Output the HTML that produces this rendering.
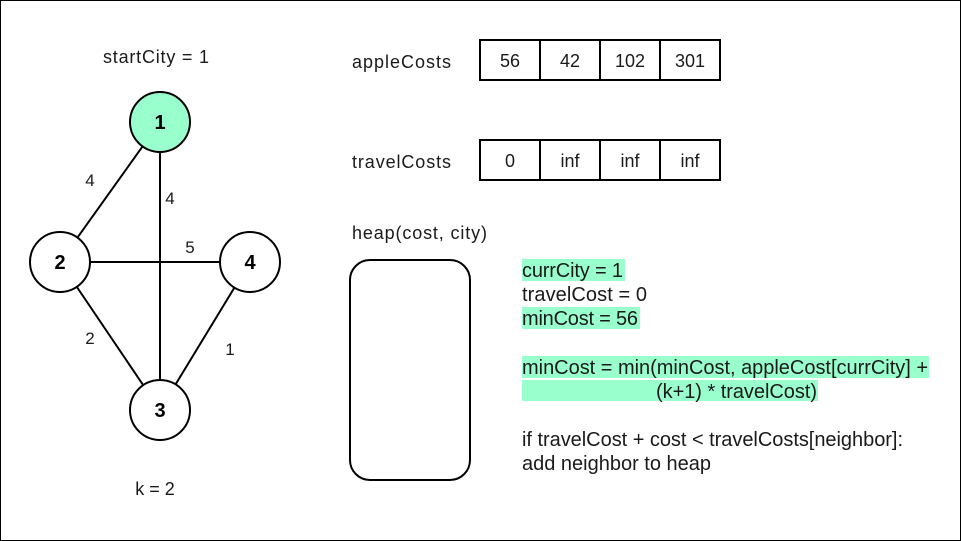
<!DOCTYPE html>
<html><head><style>
html,body{margin:0;padding:0;background:#fff}
svg{display:block}
text{font-family:"Liberation Sans",Arial,sans-serif;font-size:20px;fill:#1a1a1a}
</style></head><body>
<svg width="961" height="541" viewBox="0 0 961 541" xmlns="http://www.w3.org/2000/svg">
<rect x="0.5" y="0.5" width="960" height="540" fill="#fff" stroke="#000"/>
<g stroke="#000" stroke-width="2">
<line x1="160" y1="122" x2="60" y2="262"/>
<line x1="160" y1="122" x2="160" y2="410"/>
<line x1="60" y1="262" x2="250" y2="262"/>
<line x1="60" y1="262" x2="160" y2="410"/>
<line x1="250" y1="262" x2="160" y2="410"/>
</g>
<g stroke="#000" stroke-width="2">
<circle cx="160" cy="122" r="30" fill="#99FFCC"/>
<circle cx="60" cy="262" r="30" fill="#fff"/>
<circle cx="250" cy="262" r="30" fill="#fff"/>
<circle cx="160" cy="410" r="30" fill="#fff"/>
</g>
<g text-anchor="middle">
<text x="160" y="129" style="font-weight:bold;fill:#000">1</text>
<text x="60" y="269" style="font-weight:bold;fill:#000">2</text>
<text x="250" y="269" style="font-weight:bold;fill:#000">4</text>
<text x="160" y="417" style="font-weight:bold;fill:#000">3</text>
</g>
<g text-anchor="middle">
<text x="90" y="186" style="font-size:17px">4</text>
<text x="170" y="204" style="font-size:17px">4</text>
<text x="190" y="253" style="font-size:17px">5</text>
<text x="90" y="344" style="font-size:17px">2</text>
<text x="230" y="355" style="font-size:17px">1</text>
<text x="156" y="63" style="font-size:18px" textLength="106">startCity = 1</text>
<text x="155" y="495" style="font-size:18px">k = 2</text>
</g>
<text x="352" y="68" style="font-size:18px" textLength="99">appleCosts</text>
<text x="352" y="168" style="font-size:18px" textLength="99">travelCosts</text>
<text x="352" y="239" style="font-size:18px" textLength="135">heap(cost, city)</text>
<g fill="#fff" stroke="#000" stroke-width="2">
<rect x="480" y="40" width="60" height="40"/><rect x="540" y="40" width="60" height="40"/>
<rect x="600" y="40" width="60" height="40"/><rect x="660" y="40" width="60" height="40"/>
<rect x="480" y="140" width="60" height="40"/><rect x="540" y="140" width="60" height="40"/>
<rect x="600" y="140" width="60" height="40"/><rect x="660" y="140" width="60" height="40"/>
<rect x="350" y="260" width="120" height="220" rx="20"/>
</g>
<g text-anchor="middle">
<text x="510" y="67" style="font-size:18px">56</text><text x="570" y="67" style="font-size:18px">42</text><text x="630" y="67" style="font-size:18px">102</text><text x="690" y="67" style="font-size:18px">301</text>
<text x="510" y="167" style="font-size:18px">0</text><text x="570" y="167" style="font-size:18px">inf</text><text x="630" y="167" style="font-size:18px">inf</text><text x="690" y="167" style="font-size:18px">inf</text>
</g>
<g fill="#99FFCC">
<rect x="522" y="259" width="103" height="22"/>
<rect x="522" y="307" width="118" height="22"/>
<rect x="522" y="356" width="407" height="22"/>
<rect x="522" y="380" width="296" height="21"/>
</g>
<text x="522" y="277" textLength="101">currCity = 1</text>
<text x="522" y="301" textLength="125">travelCost = 0</text>
<text x="522" y="325" textLength="116">minCost = 56</text>
<text x="522" y="374" textLength="406">minCost = min(minCost, appleCost[currCity] +</text>
<text x="656" y="398" textLength="161">(k+1) * travelCost)</text>
<text x="522" y="446" textLength="381">if travelCost + cost &lt; travelCosts[neighbor]:</text>
<text x="522" y="470" textLength="189">add neighbor to heap</text>
</svg>
</body></html>
